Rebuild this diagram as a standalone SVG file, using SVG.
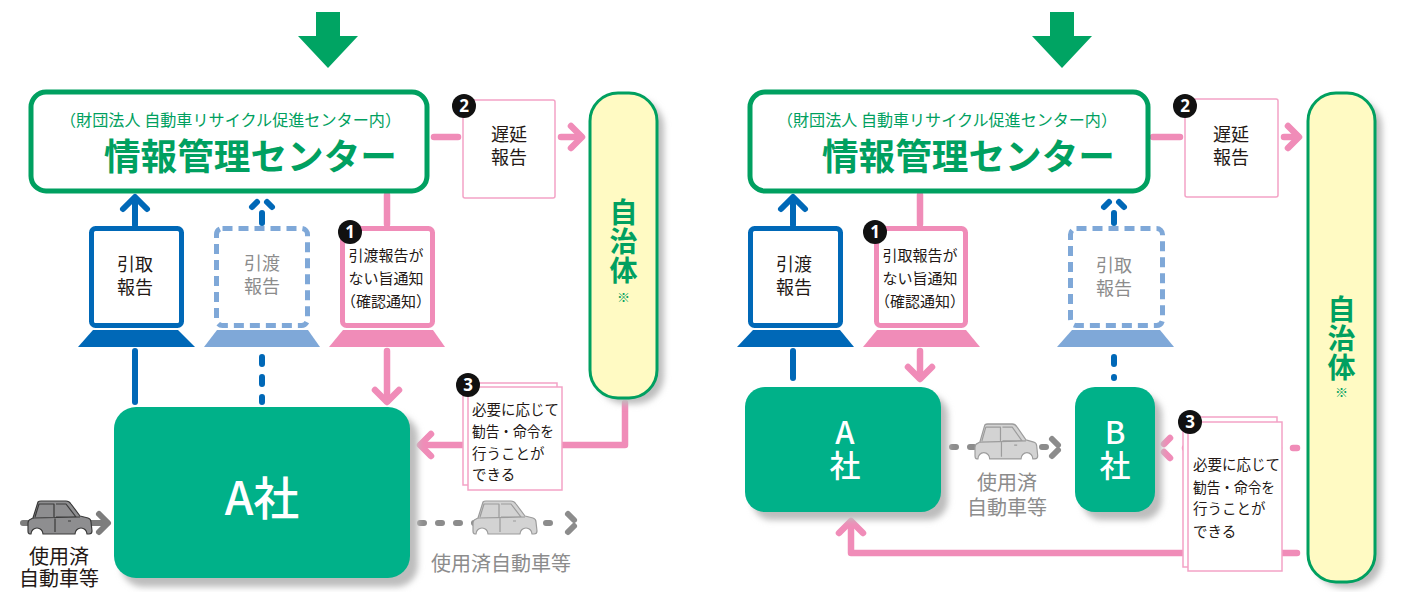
<svg xmlns="http://www.w3.org/2000/svg" width="1404" height="592" viewBox="0 0 1404 592">
<defs>
<style>
text{font-family:"Noto Sans CJK JP","Noto Sans",sans-serif}
.frame{fill:#fff;stroke:#00A060;stroke-width:5}
.sub{font-size:16px;fill:#00A060}
.title{font-size:36px;font-weight:700;fill:#00A060}
.dark{fill:#231815}
.gray{fill:#8C8C8C}
.t18{font-size:18px}
.t15{font-size:15px}
.t14{font-size:14.5px}
.t20{font-size:20px}
.mid{text-anchor:middle}
.pk{fill:none;stroke:#F08CB8;stroke-width:6.5;stroke-linecap:round;stroke-linejoin:round}
.pkd{fill:none;stroke:#F08CB8;stroke-width:6.5;stroke-linecap:round;stroke-dasharray:4 14}
.bl{fill:none;stroke:#0068B7;stroke-width:6;stroke-linecap:round;stroke-linejoin:round}
.lb{fill:none;stroke:#0068B7;stroke-width:6;stroke-linecap:round}
.lbd{fill:none;stroke:#0068B7;stroke-width:6;stroke-linecap:round;stroke-dasharray:7 13}
.gy{fill:none;stroke:#7D7D7D;stroke-width:6;stroke-linecap:round;stroke-linejoin:round}
.gyd{fill:none;stroke:#8C8C8C;stroke-width:6;stroke-linecap:round;stroke-dasharray:4 14}
.gyc{fill:none;stroke:#8C8C8C;stroke-width:6;stroke-linecap:round}
.scrB{fill:#fff;stroke:#0068B7;stroke-width:5}
.scrP{fill:#fff;stroke:#F08CB8;stroke-width:5}
.scrL{fill:#fff;stroke:#7FA8D8;stroke-width:5;stroke-dasharray:10 6}
.baseB{fill:#0068B7}
.baseP{fill:#F08CB8}
.baseL{fill:#7FA8D8}
.page{fill:#fff;stroke:#F3A3C6;stroke-width:1.5}
.dbox{fill:#fff;stroke:#F3A3C6;stroke-width:1.5}
.co{fill:#00B189}
.cot{fill:#fff;font-weight:500}
.jichi{fill:#FFFAC3;stroke:#00A060;stroke-width:3}
.jt{fill:#00A060;font-weight:700;font-size:28px;text-anchor:middle}
.js{font-size:13px;font-weight:400}
.nc{fill:#111}
.nt{fill:#fff;font-weight:700;font-size:17px;text-anchor:middle;font-family:"Noto Sans","DejaVu Sans",sans-serif}
.shadow{fill:#BDBDBD;filter:url(#blur)}
.arrowG{fill:#00A463}
.carD{fill:#8E8E90;stroke:#3A3A3A;stroke-width:1.2;stroke-linejoin:round}
.carL{fill:#D3D3D3;stroke:#9C9C9C;stroke-width:1.2;stroke-linejoin:round}
</style>
<filter id="blur" x="-20%" y="-20%" width="140%" height="140%"><feGaussianBlur stdDeviation="3"/></filter>
<g id="car">
<path d="M10,1 Q11,0 13,0 L38,0 Q41,0 43,3 L52,15 L60,17 Q63,18 63,21 L64,30 Q64,33 61,33 L59,33 A6,6 0 0 0 47,33 L15,33 A6,6 0 0 0 3,33 L2,33 Q0,33 0,30 L0,22 Q0,19 3,18 L5,17 Z"/>
<path fill="none" d="M7,16 L11,3 L26,3 L26,16 M28,3 L38,3 L48,16 L28,16 M5,17 L52,16 M27,16 L27,31 M40,20 L43,20"/>
</g>
</defs>

<!-- connectors -->
<g id="connectors">
<!-- left panel -->
<line class="bl" x1="135" y1="225" x2="135" y2="199"/>
<polyline class="bl" points="123,209 135,197 147,209"/>
<line class="bl" x1="135" y1="351" x2="135" y2="402"/>
<line class="lb" x1="262" y1="213" x2="262" y2="223"/>
<line class="lb" x1="252" y1="207" x2="257" y2="202"/>
<line class="lb" x1="267" y1="202" x2="272" y2="207"/>
<line class="lbd" x1="262" y1="357" x2="262" y2="402"/>
<line class="pk" x1="387" y1="195" x2="387" y2="224"/>
<line class="pk" x1="387" y1="351" x2="387" y2="401"/>
<polyline class="pk" points="375,390 387,402 399,390"/>
<line class="pk" x1="434" y1="137" x2="458" y2="137"/>
<line class="pk" x1="561" y1="137" x2="581" y2="137"/>
<polyline class="pk" points="571,126 582,137 571,148"/>
<path class="pk" d="M625,403 V445 H421"/>
<polyline class="pk" points="431,434 420,445 431,456"/>
<line class="gy" x1="23" y1="523" x2="107" y2="523"/>
<polyline class="gy" points="99,514 108,523 99,532"/>
<line class="gyd" x1="420" y1="523" x2="560" y2="523"/>
<line class="gyc" x1="568" y1="514" x2="574" y2="520"/>
<line class="gyc" x1="574" y1="526" x2="568" y2="532"/>
<!-- right panel -->
<line class="bl" x1="793" y1="225" x2="793" y2="199"/>
<polyline class="bl" points="781,209 793,197 805,209"/>
<line class="bl" x1="793" y1="351" x2="793" y2="378"/>
<line class="pk" x1="920" y1="195" x2="920" y2="224"/>
<line class="pk" x1="920" y1="351" x2="920" y2="377"/>
<polyline class="pk" points="908,367 920,379 932,367"/>
<line class="lb" x1="1114" y1="213" x2="1114" y2="223"/>
<line class="lb" x1="1104" y1="207" x2="1109" y2="202"/>
<line class="lb" x1="1119" y1="202" x2="1124" y2="207"/>
<line class="lbd" x1="1114" y1="357" x2="1114" y2="378"/>
<line class="pk" x1="1153" y1="137" x2="1180" y2="137"/>
<line class="pk" x1="1284" y1="137" x2="1298" y2="137"/>
<polyline class="pk" points="1288,126 1299,137 1288,148"/>
<line class="gyd" x1="952" y1="447" x2="1046" y2="447"/>
<line class="gyc" x1="1052" y1="439" x2="1058" y2="445"/>
<line class="gyc" x1="1058" y1="450" x2="1052" y2="456"/>
<line class="pkd" x1="1297" y1="448" x2="1180" y2="448"/>
<line class="pk" x1="1170" y1="438" x2="1164" y2="444"/>
<line class="pk" x1="1164" y1="452" x2="1170" y2="458"/>
<path class="pk" d="M1297,553 H851 V524"/>
<polyline class="pk" points="839,533 851,521 863,533"/>
</g>

<!-- LEFT PANEL NODES -->
<g id="arrow-left"><polygon class="arrowG" points="316,12 340,12 340,36 358,36 328,68 298,36 316,36"/></g>

<g id="center-left">
<rect class="frame" x="31" y="92" width="396" height="99" rx="15"/>
<text class="sub" x="60" y="126" textLength="341" lengthAdjust="spacingAndGlyphs">（財団法人 自動車リサイクル促進センター内）</text>
<text class="title" x="104" y="170" textLength="293" lengthAdjust="spacingAndGlyphs">情報管理センター</text>
</g>

<g id="delay-left">
<rect class="dbox" x="463" y="100" width="92" height="98" rx="2"/>
<text class="dark t18 mid"><tspan x="509" y="141">遅延</tspan><tspan x="509" y="164">報告</tspan></text>
<circle class="nc" cx="464" cy="106" r="12"/>
<text class="nt" x="464" y="112">2</text>
</g>

<g id="jichitai-left">
<rect class="shadow" x="597" y="99" width="67" height="305" rx="28"/>
<rect class="jichi" x="590" y="93" width="67" height="305" rx="28"/>
<text class="jt"><tspan x="623.5" y="223">自</tspan><tspan x="623.5" y="252">治</tspan><tspan x="623.5" y="281">体</tspan><tspan class="js" x="623.5" y="302">※</tspan></text>
</g>

<g id="pc-hikitori-left">
<rect class="scrB" x="91.5" y="228.5" width="90" height="97" rx="4"/>
<polygon class="baseB" points="93,330 178,330 195,347 78,347"/>
<text class="dark t18 mid"><tspan x="135" y="271">引取</tspan><tspan x="135" y="294">報告</tspan></text>
</g>

<g id="pc-hikiwatashi-left">
<rect class="scrL" x="216.5" y="228.5" width="91" height="97" rx="6"/>
<polygon class="baseL" points="217,330 308,330 320,347 204,347"/>
<text class="gray t18 mid"><tspan x="262" y="270">引渡</tspan><tspan x="262" y="293">報告</tspan></text>
</g>

<g id="pc-notice-left">
<rect class="scrP" x="342.5" y="228.5" width="90" height="97" rx="4"/>
<polygon class="baseP" points="343,330 433,330 445,347 329,347"/>
<text class="dark t15 mid"><tspan x="386" y="261">引渡報告が</tspan><tspan x="386" y="284">ない旨通知</tspan><tspan x="386" y="307">（確認通知）</tspan></text>
<circle class="nc" cx="350" cy="232" r="12"/>
<text class="nt" x="350" y="238">1</text>
</g>

<g id="company-a-left">
<rect class="shadow" x="121" y="415" width="297" height="172" rx="22"/>
<rect class="co" x="114" y="407" width="296" height="171" rx="22"/>
<text class="cot mid" x="262" y="515" font-size="46">A社</text>
</g>

<g id="order-left">
<rect class="page" x="463" y="383" width="94" height="102"/>
<rect class="page" x="468" y="387" width="94" height="103"/>
<text class="dark t14"><tspan x="472" y="415">必要に応じて</tspan><tspan x="472" y="437" textLength="82" lengthAdjust="spacingAndGlyphs">勧告・命令を</tspan><tspan x="472" y="459">行うことが</tspan><tspan x="472" y="480">できる</tspan></text>
<circle class="nc" cx="468" cy="385" r="12"/>
<text class="nt" x="468" y="391">3</text>
</g>

<g id="car-in-left">
<use href="#car" class="carD" transform="translate(28,501)"/>
<text class="dark t20 mid"><tspan x="59" y="564">使用済</tspan><tspan x="59" y="586">自動車等</tspan></text>
</g>

<g id="car-out-left">
<use href="#car" class="carL" transform="translate(473,501)"/>
<text class="gray t20 mid" x="501" y="571">使用済自動車等</text>
</g>

<!-- RIGHT PANEL NODES -->
<g id="arrow-right"><polygon class="arrowG" points="1050,12 1074,12 1074,36 1092,36 1062,68 1032,36 1050,36"/></g>

<g id="center-right">
<rect class="frame" x="750" y="92" width="398" height="99" rx="15"/>
<text class="sub" x="777" y="126" textLength="340" lengthAdjust="spacingAndGlyphs">（財団法人 自動車リサイクル促進センター内）</text>
<text class="title" x="822" y="170" textLength="293" lengthAdjust="spacingAndGlyphs">情報管理センター</text>
</g>

<g id="delay-right">
<rect class="dbox" x="1185" y="99" width="93" height="98" rx="2"/>
<text class="dark t18 mid"><tspan x="1231" y="141">遅延</tspan><tspan x="1231" y="164">報告</tspan></text>
<circle class="nc" cx="1185" cy="106" r="12"/>
<text class="nt" x="1185" y="112">2</text>
</g>

<g id="jichitai-right">
<rect class="shadow" x="1315" y="99" width="67" height="489" rx="28"/>
<rect class="jichi" x="1308" y="93" width="67" height="489" rx="28"/>
<text class="jt"><tspan x="1341.5" y="320">自</tspan><tspan x="1341.5" y="349">治</tspan><tspan x="1341.5" y="378">体</tspan><tspan class="js" x="1341.5" y="397">※</tspan></text>
</g>

<g id="pc-hikiwatashi-right">
<rect class="scrB" x="750.5" y="228.5" width="90" height="97" rx="4"/>
<polygon class="baseB" points="753,330 840,330 854,347 737,347"/>
<text class="dark t18 mid"><tspan x="794" y="271">引渡</tspan><tspan x="794" y="294">報告</tspan></text>
</g>

<g id="pc-notice-right">
<rect class="scrP" x="876.5" y="228.5" width="89" height="97" rx="4"/>
<polygon class="baseP" points="877,330 966,330 980,347 863,347"/>
<text class="dark t15 mid"><tspan x="920" y="261">引取報告が</tspan><tspan x="920" y="284">ない旨通知</tspan><tspan x="920" y="307">（確認通知）</tspan></text>
<circle class="nc" cx="875" cy="232" r="12"/>
<text class="nt" x="875" y="238">1</text>
</g>

<g id="pc-hikitori-right">
<rect class="scrL" x="1070.5" y="228.5" width="92" height="97" rx="6"/>
<polygon class="baseL" points="1072,330 1160,330 1174,347 1057,347"/>
<text class="gray t18 mid"><tspan x="1114" y="272">引取</tspan><tspan x="1114" y="295">報告</tspan></text>
</g>

<g id="company-a-right">
<rect class="shadow" x="752" y="395" width="196" height="125" rx="20"/>
<rect class="co" x="745" y="387" width="196" height="125" rx="20"/>
<text class="cot mid" font-size="31"><tspan x="845" y="444">A</tspan><tspan x="845" y="477">社</tspan></text>
</g>

<g id="company-b-right">
<rect class="shadow" x="1082" y="395" width="80" height="125" rx="20"/>
<rect class="co" x="1075" y="387" width="80" height="125" rx="20"/>
<text class="cot mid" font-size="31"><tspan x="1115" y="444">B</tspan><tspan x="1115" y="477">社</tspan></text>
</g>

<g id="car-between-right">
<use href="#car" class="carL" transform="translate(975,424) scale(0.98,1.06)"/>
<text class="gray t20 mid"><tspan x="1007" y="490">使用済</tspan><tspan x="1007" y="515">自動車等</tspan></text>
</g>

<g id="order-right">
<rect class="page" x="1183" y="417" width="94" height="150"/>
<rect class="page" x="1188" y="422" width="94" height="149"/>
<text class="dark t14"><tspan x="1193" y="470">必要に応じて</tspan><tspan x="1193" y="493" textLength="82" lengthAdjust="spacingAndGlyphs">勧告・命令を</tspan><tspan x="1193" y="514">行うことが</tspan><tspan x="1193" y="537">できる</tspan></text>
<circle class="nc" cx="1190" cy="422" r="12"/>
<text class="nt" x="1190" y="428">3</text>
</g>
</svg>
